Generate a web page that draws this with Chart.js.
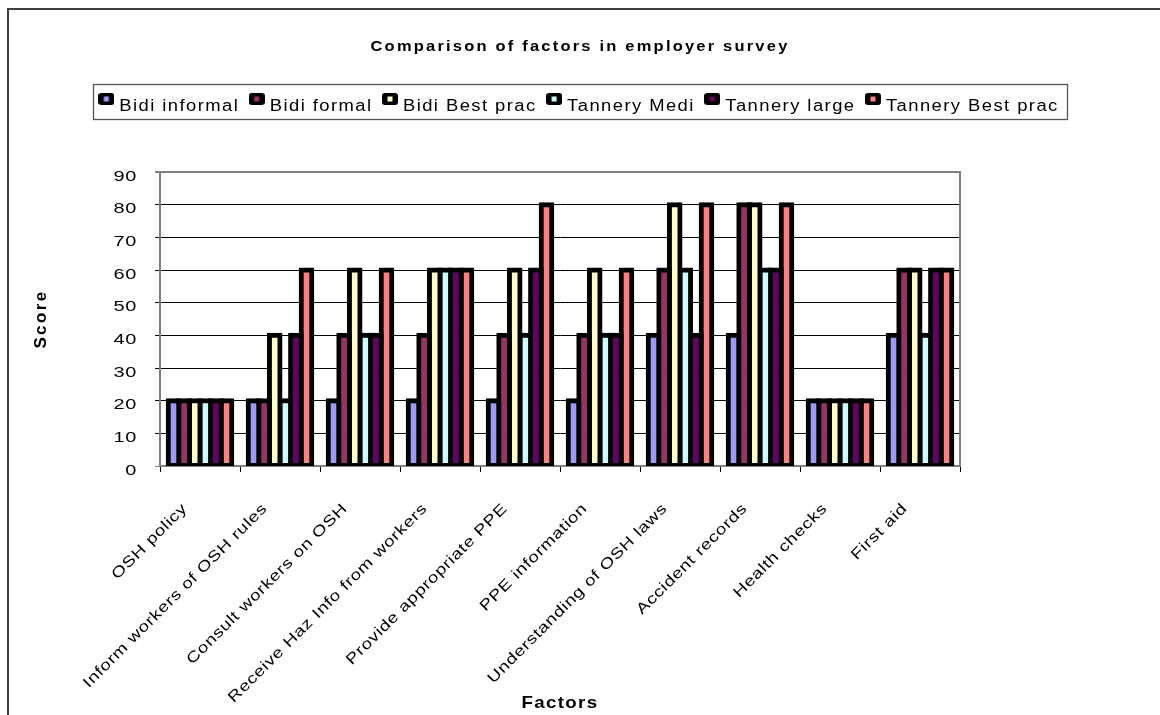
<!DOCTYPE html>
<html><head><meta charset="utf-8">
<script src="https://cdn.jsdelivr.net/npm/chart.js@4"></script>
<style>html,body{margin:0;padding:0;background:#fff;}canvas{display:block;}</style>
</head><body>
<canvas id="c" width="1160" height="715"></canvas>
<script>
const categories = ['OSH policy','Inform workers of OSH rules','Consult workers on OSH','Receive Haz Info from workers','Provide appropriate PPE','PPE information','Understanding of OSH laws','Accident records','Health checks','First aid'];
const seriesNames = ['Bidi informal','Bidi formal','Bidi Best prac','Tannery Medi','Tannery large','Tannery Best prac'];
const bidiInformal = [20,20,20,20,20,20,40,40,20,40];
const bidiFormal   = [20,20,40,40,40,40,60,80,20,60];
const bidiBest     = [20,40,60,60,60,60,80,80,20,60];
const tanneryMedi  = [20,20,40,60,40,40,60,60,20,40];
const tanneryLarge = [20,40,40,60,60,40,40,60,20,60];
const tanneryBest  = [20,60,60,60,80,60,80,80,20,60];
const yTickValues  = [0,10,20,30,40,50,60,70,80,90];
const seriesColors = ['#9999FF','#993366','#FFFFCC','#CCFFFF','#660066','#FF8080'];
const seriesValues = [bidiInformal,bidiFormal,bidiBest,tanneryMedi,tanneryLarge,tanneryBest];

const FONT = '"Liberation Sans", Arial, sans-serif';
Chart.defaults.font.family = FONT;
Chart.defaults.color = '#000';

function makeMarker(color){
  const c = document.createElement('canvas');
  c.width = 16; c.height = 27;
  const g = c.getContext('2d');
  g.fillStyle = '#000';
  g.beginPath();
  if (g.roundRect) g.roundRect(0,0,16,12,3); else g.rect(0,0,16,12);
  g.fill();
  g.fillStyle = color;
  g.fillRect(5.5,3.5,5,5);
  return c;
}
const markers = seriesColors.map(makeMarker);

/* text rendering with horizontal stretch + letter spacing (imitates the source's wide text) */
const P = CanvasRenderingContext2D.prototype;
const origFill = P.fillText, origMeasure = P.measureText;
function installText(ctx){
  if (ctx._txtInstalled) return;
  ctx._txtInstalled = true;
  ctx._sx = 1;
  ctx.fillText = function(t, x, y, mw){
    const s = this._sx || 1;
    if (s === 1) return (mw === undefined) ? origFill.call(this, t, x, y) : origFill.call(this, t, x, y, mw);
    this.save();
    this.translate(x, y);
    this.scale(s, 1);
    if (mw === undefined) origFill.call(this, t, 0, 0); else origFill.call(this, t, 0, 0, mw / s);
    this.restore();
  };
  ctx.measureText = function(t){
    const m = origMeasure.call(this, t);
    const s = this._sx || 1;
    if (s === 1) return m;
    return { width: m.width * s,
      actualBoundingBoxAscent: m.actualBoundingBoxAscent, actualBoundingBoxDescent: m.actualBoundingBoxDescent,
      actualBoundingBoxLeft: m.actualBoundingBoxLeft * s, actualBoundingBoxRight: m.actualBoundingBoxRight * s,
      fontBoundingBoxAscent: m.fontBoundingBoxAscent, fontBoundingBoxDescent: m.fontBoundingBoxDescent };
  };
}
function wrapText(obj, method, sx, ls, after){
  if (!obj || obj['_w_' + method]) return;
  const orig = obj[method].bind(obj);
  obj[method] = function(...a){
    const ctx = this.ctx || (this.chart && this.chart.ctx);
    const psx = ctx._sx, pls = ctx.letterSpacing;
    ctx._sx = sx; ctx.letterSpacing = ls;
    const r = orig(...a);
    ctx._sx = psx; ctx.letterSpacing = pls;
    if (after) after.call(this);
    return r;
  };
  obj['_w_' + method] = true;
}

const LEGEND_H = 86;
const deco = {
  id: 'deco',
  beforeLayout(chart){
    const ctx = chart.ctx;
    installText(ctx);
    ctx._sx = 1; ctx.letterSpacing = '0px';
    wrapText(chart.titleBlock, 'draw', 1.1, '2.0px');
    wrapText(chart.legend, 'fit', 1.15, '1.25px', function(){ this.height = LEGEND_H; });
    wrapText(chart.legend, 'draw', 1.15, '1.25px');
    const xs = chart.scales.x, ys = chart.scales.y;
    wrapText(xs, 'drawLabels', 1.25, '0.5px');
    wrapText(xs, 'drawTitle', 1.1, '1.2px');
    wrapText(ys, 'drawLabels', 1.33, '0.5px');
    wrapText(ys, 'drawTitle', 1, '2.4px');
  },
  beforeDraw(chart){
    const ctx = chart.ctx;
    installText(ctx);
    ctx.save();
    ctx.fillStyle = '#fff';
    ctx.fillRect(0,0,chart.width,chart.height);
    ctx.fillStyle = '#404040';
    ctx.fillRect(7,8,chart.width-7,2);
    ctx.fillRect(7,8,2,chart.height-8);
    ctx.restore();
  },
  afterDraw(chart){
    const lg = chart.legend;
    if (!lg || !lg.legendHitBoxes || !lg.legendHitBoxes.length) return;
    const hb = lg.legendHitBoxes;
    const first = hb[0], last = hb[hb.length-1];
    const cy = first.top + first.height/2;
    const ctx = chart.ctx;
    ctx.save();
    ctx.strokeStyle = '#555';
    ctx.lineWidth = 1.3;
    const l = Math.round(first.left - 8.5) + 0.5;
    const r = Math.round(last.left + last.width + 8) + 0.5;
    const t = Math.round(cy - 22.5) + 0.5;
    const b = Math.round(cy + 12.5) + 0.5;
    ctx.strokeRect(l, t, r - l, b - t);
    ctx.restore();
  }
};

const datasets = seriesNames.map((name,i)=>({
  label: name,
  data: seriesValues[i],
  backgroundColor: seriesColors[i],
  borderColor: '#000',
  borderWidth: 5,
  borderSkipped: false,
  inflateAmount: 2.5,
  categoryPercentage: 0.795,
  barPercentage: 1.0,
  clip: {left: 10, right: 10, top: 10, bottom: 0}
}));

new Chart(document.getElementById('c'), {
  type: 'bar',
  data: { labels: categories, datasets },
  plugins: [deco],
  options: {
    responsive: false,
    animation: false,
    devicePixelRatio: 1,
    layout: { padding: { left: 8, right: 8, top: 0, bottom: 0 } },
    plugins: {
      title: {
        display: true,
        text: 'Comparison of factors in employer survey',
        font: { size: 15, weight: 'bold', family: FONT, lineHeight: 1.2 },
        color: '#000',
        padding: { top: 38, bottom: 30 }
      },
      legend: {
        display: true,
        position: 'top',
        labels: {
          usePointStyle: true,
          pointStyleWidth: 10,
          padding: 12.5,
          font: { size: 16, family: FONT },
          color: '#000',
          generateLabels(chart){
            return chart.data.datasets.map((ds,i)=>({
              text: ds.label,
              fillStyle: ds.backgroundColor,
              strokeStyle: '#000',
              lineWidth: 0,
              pointStyle: markers[i],
              hidden: !chart.isDatasetVisible(i),
              datasetIndex: i,
              fontColor: '#000'
            }));
          }
        }
      },
      tooltip: { enabled: false }
    },
    scales: {
      x: {
        type: 'category',
        position: 'bottom',
        grid: { display: true, offset: true, drawOnChartArea: false, drawTicks: true, tickLength: 6, color: '#000', lineWidth: 1 },
        border: { display: true, color: '#808080', width: 2 },
        ticks: { autoSkip: false, minRotation: 45, maxRotation: 45, padding: 28, labelOffset: -15, font: { size: 15, family: FONT }, color: '#000' },
        title: { display: true, text: 'Factors', font: { size: 17, weight: 'bold', family: FONT, lineHeight: 1.2 }, color: '#000', padding: { top: 0, bottom: 1 } },
        afterFit(s){ s.height = 249; }
      },
      y: {
        type: 'linear',
        position: 'left',
        min: yTickValues[0],
        max: yTickValues[yTickValues.length-1],
        afterBuildTicks(s){ s.ticks = yTickValues.map(v=>({value: v})); },
        grid: {
          color: c => (c.tick && (c.tick.value === 90 || c.tick.value === 0)) ? '#808080' : '#000',
          lineWidth: c => (c.tick && c.tick.value === 90) ? 2 : 1,
          tickLength: 5,
          drawTicks: true
        },
        border: { display: true, color: '#808080', width: 2 },
        ticks: { padding: 18, labelOffset: 4.5, font: { size: 15, family: FONT }, color: '#000' },
        title: { display: true, text: 'Score', font: { size: 17, weight: 'bold', family: FONT, lineHeight: 1.2 }, color: '#000', padding: { top: 23, bottom: 0 } },
        afterFit(s){ s.width = 152; }
      },
      yR: {
        type: 'linear',
        position: 'right',
        display: true,
        grid: { display: false, drawTicks: false },
        ticks: { display: false },
        border: { display: true, color: '#808080', width: 2 },
        afterFit(s){ s.width = 192; }
      }
    }
  }
});
</script>
</body></html>
